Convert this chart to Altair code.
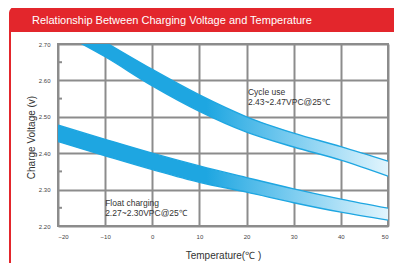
import altair as alt
import pandas as pd

# ---- data ----
temps = [-20, -10, 0, 10, 20, 30, 40, 50]
cycle_hi = [2.780, 2.705, 2.630, 2.560, 2.500, 2.455, 2.418, 2.378]
cycle_lo = [2.735, 2.665, 2.585, 2.515, 2.458, 2.417, 2.381, 2.337]
float_hi = [2.477, 2.438, 2.400, 2.365, 2.333, 2.302, 2.274, 2.249]
float_lo = [2.432, 2.393, 2.355, 2.320, 2.293, 2.264, 2.238, 2.216]

x_ticks = [-20, -10, 0, 10, 20, 30, 40, 50]
y_ticks = [2.20, 2.30, 2.40, 2.50, 2.60, 2.70]
y_minor = [2.25, 2.35, 2.45, 2.55, 2.65]

title_text = "Relationship Between Charging Voltage and Temperature"
x_title = "Temperature(℃ )"
y_title = "Charge Voltage (v)"

ann_t = [20.3, 20.3, -10.0, -10.0]
ann_v = [2.568, 2.541, 2.262, 2.235]
ann_text = ["Cycle use", "2.43~2.47VPC@25℃", "Float charging", "2.27~2.30VPC@25℃"]

# ---- tables ----
band_rows = []
edge_rows = []
for name, hi, lo in (("cycle", cycle_hi, cycle_lo), ("float", float_hi, float_lo)):
    for t, h, l in zip(temps, hi, lo):
        band_rows.append({"t": t, "hi": h, "lo": l, "series": name})
        edge_rows.append({"t": t, "v": h, "key": name + "_hi"})
        edge_rows.append({"t": t, "v": l, "key": name + "_lo"})
band_df = pd.DataFrame(band_rows)
edge_df = pd.DataFrame(edge_rows)
ann_df = pd.DataFrame({"t": ann_t, "v": ann_v, "text": ann_text})
yminor_df = pd.DataFrame({"v": y_minor})

BLUE = "#1ea6e1"
RED = "#e3262c"
GRID = "#8c8c8c"

xscale = alt.Scale(domain=[-20, 50], nice=False)
yscale = alt.Scale(domain=[2.2, 2.7], nice=False, zero=False)

xaxis = alt.Axis(values=x_ticks, title=x_title, grid=True, gridColor=GRID, gridWidth=2,
                 gridOpacity=1, labelPadding=7, labelOverlap=False,
                 titleX=165, titleY=29, titleBaseline="middle")
yaxis = alt.Axis(values=y_ticks, format=".2f", title=y_title, grid=True, gridColor=GRID, gridWidth=2,
                 gridOpacity=1, labelPadding=8, labelOverlap=False, titleX=-27, titleY=93,
                 titleBaseline="middle", titleAngle=-90)

gradient = alt.LinearGradient(
    gradient="linear", x1=0, x2=1, y1=0, y2=0,
    stops=[
        alt.GradientStop(offset=0.0, color=BLUE),
        alt.GradientStop(offset=0.45, color=BLUE),
        alt.GradientStop(offset=0.75, color="#8ad2f2"),
        alt.GradientStop(offset=1.0, color="#e2f5fd"),
    ],
)

X = alt.X("t:Q", scale=xscale, axis=xaxis)

bands = alt.Chart(band_df).mark_area(clip=True, interpolate="monotone", fill=gradient).encode(
    x=X,
    y=alt.Y("hi:Q", scale=yscale, axis=yaxis),
    y2="lo:Q",
    detail="series:N",
)

edges = alt.Chart(edge_df).mark_line(clip=True, interpolate="monotone", color=BLUE, strokeWidth=1.4).encode(
    x=X,
    y=alt.Y("v:Q", scale=yscale, axis=yaxis),
    detail="key:N",
)

yminor = alt.Chart(yminor_df).mark_rule(color=GRID, strokeWidth=2).encode(
    y=alt.Y("v:Q", scale=yscale, axis=yaxis),
    x=alt.value(0), x2=alt.value(4),
)

ann = alt.Chart(ann_df).mark_text(align="left", baseline="middle", fontSize=8.5,
                                  color="#333333", font="Liberation Sans").encode(
    x=X,
    y=alt.Y("v:Q", scale=yscale, axis=yaxis),
    text="text:N",
)

deco_df = pd.DataFrame({"title": [title_text]})
frame = alt.Chart(deco_df).mark_rect(fillOpacity=0, stroke=RED, strokeWidth=2, cornerRadius=5).encode(
    x=alt.value(-48), x2=alt.value(338), y=alt.value(-36), y2=alt.value(224),
)
header = alt.Chart(deco_df).mark_rect(fill=RED, cornerRadiusTopLeft=6, cornerRadiusTopRight=6).encode(
    x=alt.value(-48), x2=alt.value(338), y=alt.value(-37), y2=alt.value(-12),
)
title = alt.Chart(deco_df).mark_text(align="left", baseline="middle", fontSize=11, color="white",
                                     font="Liberation Sans").encode(
    x=alt.value(-26), y=alt.value(-23), text="title:N",
)

chart = alt.layer(frame, header, title, yminor, bands, edges, ann).properties(
    width=330, height=182,
    padding={"left": 50, "top": 36, "right": 6, "bottom": 37},
    autosize=alt.AutoSizeParams(type="none"),
    background="white",
).configure_view(stroke=GRID, strokeWidth=2).configure_axis(
    domain=False, ticks=False,
    labelFontSize=6, labelColor="#444444", labelFont="Liberation Sans",
    titleFontSize=10, titleColor="#333333", titleFont="Liberation Sans", titleFontWeight="normal",
)

chart.save("out.html", embed_options={"renderer": "svg", "actions": False})
